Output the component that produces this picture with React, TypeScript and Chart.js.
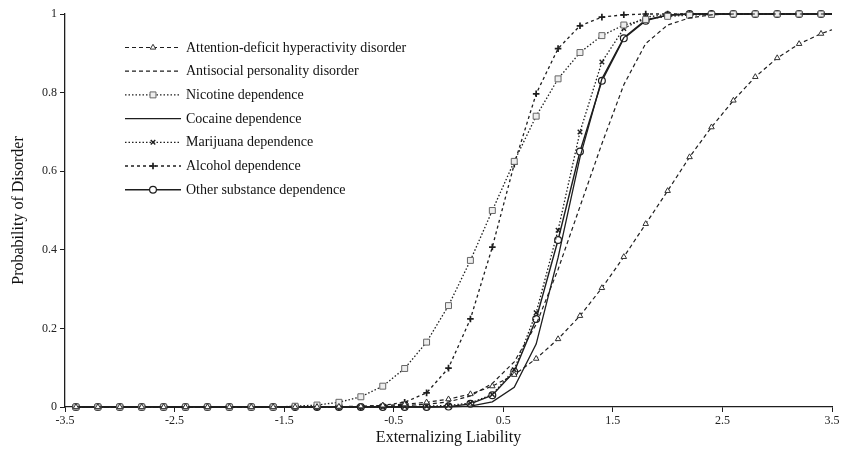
import React, { useEffect, useRef } from "react";
import { Chart, registerables } from "chart.js";

Chart.register(...registerables);

const xValues = [
  -3.4, -3.2, -3.0, -2.8, -2.6, -2.4, -2.2, -2.0, -1.8, -1.6, -1.4, -1.2,
  -1.0, -0.8, -0.6, -0.4, -0.2, 0.0, 0.2, 0.4, 0.6, 0.8, 1.0, 1.2, 1.4, 1.6,
  1.8, 2.0, 2.2, 2.4, 2.6, 2.8, 3.0, 3.2, 3.4, 3.5,
];

const adhd = [
  0, 0, 0, 0, 0, 0, 0, 0, 0, 0, 0, 0.0005, 0.001, 0.002, 0.004, 0.007, 0.012,
  0.02, 0.033, 0.053, 0.082, 0.123, 0.173, 0.232, 0.303, 0.382, 0.466, 0.55,
  0.636, 0.712, 0.78, 0.84, 0.888, 0.924, 0.95, 0.96,
];
const antisocial = [
  0, 0, 0, 0, 0, 0, 0, 0, 0, 0, 0, 0, 0, 0.001, 0.002, 0.004, 0.007, 0.013,
  0.028, 0.06, 0.115, 0.21, 0.35, 0.51, 0.67, 0.82, 0.925, 0.972, 0.99, 0.998,
  1, 1, 1, 1, 1, 1,
];
const nicotine = [
  0, 0, 0, 0, 0, 0, 0, 0, 0, 0, 0.002, 0.005, 0.012, 0.026, 0.053, 0.098,
  0.165, 0.258, 0.373, 0.5, 0.625, 0.74, 0.835, 0.902, 0.945, 0.972, 0.986,
  0.994, 0.997, 0.999, 1, 1, 1, 1, 1, 1,
];
const cocaine = [
  0, 0, 0, 0, 0, 0, 0, 0, 0, 0, 0, 0, 0, 0, 0, 0, 0, 0.0005, 0.002, 0.013,
  0.05, 0.16, 0.38, 0.635, 0.835, 0.94, 0.985, 0.997, 1, 1, 1, 1, 1, 1, 1, 1,
];
const marijuana = [
  0, 0, 0, 0, 0, 0, 0, 0, 0, 0, 0, 0, 0, 0, 0, 0.001, 0.002, 0.004, 0.01,
  0.032, 0.095, 0.24, 0.45, 0.7, 0.878, 0.963, 0.992, 0.999, 1, 1, 1, 1, 1, 1,
  1, 1,
];
const alcohol = [
  0, 0, 0, 0, 0, 0, 0, 0, 0, 0, 0, 0, 0, 0.001, 0.004, 0.012, 0.036, 0.099,
  0.224, 0.407, 0.618, 0.797, 0.912, 0.97, 0.992, 0.998, 1, 1, 1, 1, 1, 1, 1,
  1, 1, 1,
];
const otherSubstance = [
  0, 0, 0, 0, 0, 0, 0, 0, 0, 0, 0, 0, 0, 0, 0, 0, 0, 0.001, 0.008, 0.03, 0.09,
  0.224, 0.425, 0.65, 0.83, 0.938, 0.983, 0.997, 1, 1, 1, 1, 1, 1, 1, 1,
];

const seriesNames = [
  "Attention-deficit hyperactivity disorder",
  "Antisocial personality disorder",
  "Nicotine dependence",
  "Cocaine dependence",
  "Marijuana dependence",
  "Alcohol dependence",
  "Other substance dependence",
];

const xTickValues = [-3.5, -2.5, -1.5, -0.5, 0.5, 1.5, 2.5, 3.5];
const yTickValues = [0, 0.2, 0.4, 0.6, 0.8, 1];

const xTitle = "Externalizing Liability";
const yTitle = "Probability of Disorder";

const FONT = "'Liberation Serif', 'Times New Roman', serif";
const INK = "#1e1e1e";

type Style = {
  dash: number[];
  width: number;
  point: string | false;
  radius: number;
  pointColor: string;
  pointFill: string;
  pointWidth: number;
};

const styles: Style[] = [
  { dash: [4, 3], width: 1.2, point: "triangle", radius: 3.2, pointColor: "#333", pointFill: "#fff", pointWidth: 1 },
  { dash: [4, 3], width: 1.2, point: false, radius: 0, pointColor: INK, pointFill: "#fff", pointWidth: 1 },
  { dash: [1.5, 2], width: 1.3, point: "rect", radius: 4.2, pointColor: "#666", pointFill: "#eee", pointWidth: 1 },
  { dash: [], width: 1.3, point: false, radius: 0, pointColor: INK, pointFill: "#fff", pointWidth: 1 },
  { dash: [1.5, 2], width: 1.3, point: "crossRot", radius: 3.2, pointColor: INK, pointFill: "#fff", pointWidth: 1.4 },
  { dash: [3, 3], width: 1.3, point: "cross", radius: 3.3, pointColor: INK, pointFill: "#fff", pointWidth: 1.7 },
  { dash: [], width: 1.4, point: "circle", radius: 3.4, pointColor: INK, pointFill: "#fff", pointWidth: 1.2 },
];

const seriesValues = [adhd, antisocial, nicotine, cocaine, marijuana, alcohol, otherSubstance];

function drawMarker(ctx: CanvasRenderingContext2D, s: Style, x: number, y: number) {
  if (!s.point) return;
  const r = s.radius;
  ctx.save();
  ctx.setLineDash([]);
  ctx.strokeStyle = s.pointColor;
  ctx.fillStyle = s.pointFill;
  ctx.lineWidth = s.pointWidth;
  ctx.beginPath();
  if (s.point === "circle") {
    ctx.arc(x, y, r, 0, Math.PI * 2);
    ctx.fill();
    ctx.stroke();
  } else if (s.point === "rect") {
    const h = r * Math.SQRT1_2;
    ctx.rect(x - h, y - h, 2 * h, 2 * h);
    ctx.fill();
    ctx.stroke();
  } else if (s.point === "triangle") {
    ctx.moveTo(x, y - r);
    ctx.lineTo(x - r * 0.87, y + r * 0.5);
    ctx.lineTo(x + r * 0.87, y + r * 0.5);
    ctx.closePath();
    ctx.fill();
    ctx.stroke();
  } else if (s.point === "cross") {
    ctx.moveTo(x - r, y);
    ctx.lineTo(x + r, y);
    ctx.moveTo(x, y - r);
    ctx.lineTo(x, y + r);
    ctx.stroke();
  } else if (s.point === "crossRot") {
    const d = r * Math.SQRT1_2;
    ctx.moveTo(x - d, y - d);
    ctx.lineTo(x + d, y + d);
    ctx.moveTo(x + d, y - d);
    ctx.lineTo(x - d, y + d);
    ctx.stroke();
  }
  ctx.restore();
}

const legendPlugin = {
  id: "customLegend",
  afterDraw(chart: any) {
    const ctx: CanvasRenderingContext2D = chart.ctx;
    const x0 = 125;
    const x1 = 181;
    const top = 47.5;
    const step = 23.7;
    ctx.save();
    seriesNames.forEach((name, i) => {
      const s = styles[i];
      const y = top + i * step;
      ctx.beginPath();
      ctx.setLineDash(s.dash);
      ctx.strokeStyle = INK;
      ctx.lineWidth = s.width;
      ctx.moveTo(x0, y);
      ctx.lineTo(x1, y);
      ctx.stroke();
      drawMarker(ctx, s, (x0 + x1) / 2, y);
      ctx.setLineDash([]);
      ctx.fillStyle = "#111";
      ctx.font = `14px ${FONT}`;
      ctx.textAlign = "left";
      ctx.textBaseline = "middle";
      ctx.fillText(name, 186, y + 0.5);
    });
    ctx.restore();
  },
};

export default function App() {
  const canvasRef = useRef<HTMLCanvasElement | null>(null);

  useEffect(() => {
    if (!canvasRef.current) return;
    const datasets = seriesNames.map((name, i) => {
      const s = styles[i];
      const vals = seriesValues[i];
      return {
        label: name,
        data: xValues.map((x, j) => ({ x, y: vals[j] })),
        borderColor: INK,
        borderWidth: s.width,
        borderDash: s.dash,
        backgroundColor: s.pointFill,
        pointStyle: s.point === false ? "circle" : s.point,
        pointRadius: xValues.map((x, j) => (s.point === false || j === xValues.length - 1 ? 0 : s.radius)),
        pointBorderColor: s.pointColor,
        pointBackgroundColor: s.pointFill,
        pointBorderWidth: s.pointWidth,
        pointHoverRadius: 0,
        tension: 0,
        fill: false,
        clip: false as any,
      };
    });

    const chart = new Chart(canvasRef.current, {
      type: "line",
      data: { datasets },
      plugins: [legendPlugin],
      options: {
        animation: false,
        responsive: false,
        events: [],
        layout: { padding: { left: 0, top: 14, right: 10, bottom: 0 } },
        plugins: { legend: { display: false }, tooltip: { enabled: false } },
        scales: {
          x: {
            type: "linear",
            min: -3.5,
            max: 3.5,
            afterBuildTicks: (scale: any) => {
              scale.ticks = xTickValues.map((v) => ({ value: v }));
            },
            afterFit: (scale: any) => {
              scale.height = 51;
            },
            ticks: {
              autoSkip: false,
              maxRotation: 0,
              padding: 2,
              color: "#222",
              font: { family: FONT, size: 12 },
              callback: (v: any) => String(v),
            },
            grid: { display: true, drawOnChartArea: false, drawTicks: true, tickLength: 5, color: INK, lineWidth: 1 },
            border: { display: true, color: INK, width: 1.3 },
            title: {
              display: true,
              text: xTitle,
              color: "#111",
              font: { family: FONT, size: 16 },
              padding: { top: 0, bottom: 11 },
            },
          },
          y: {
            type: "linear",
            min: 0,
            max: 1,
            afterBuildTicks: (scale: any) => {
              scale.ticks = yTickValues.map((v) => ({ value: v }));
            },
            afterFit: (scale: any) => {
              scale.width = 65;
            },
            ticks: {
              padding: 3,
              color: "#222",
              font: { family: FONT, size: 12 },
              callback: (v: any) => String(v),
            },
            grid: { display: true, drawOnChartArea: false, drawTicks: true, tickLength: 5, color: INK, lineWidth: 1 },
            border: { display: true, color: INK, width: 1.3 },
            title: {
              display: true,
              text: yTitle,
              color: "#111",
              font: { family: FONT, size: 16 },
              padding: { top: 9, bottom: 0 },
            },
          },
        },
      } as any,
    });
    return () => chart.destroy();
  }, []);

  return (
    <div style={{ position: "fixed", left: 0, top: 0, width: 842, height: 458, background: "#fff" }}>
      <canvas ref={canvasRef} width={842} height={458} />
    </div>
  );
}
